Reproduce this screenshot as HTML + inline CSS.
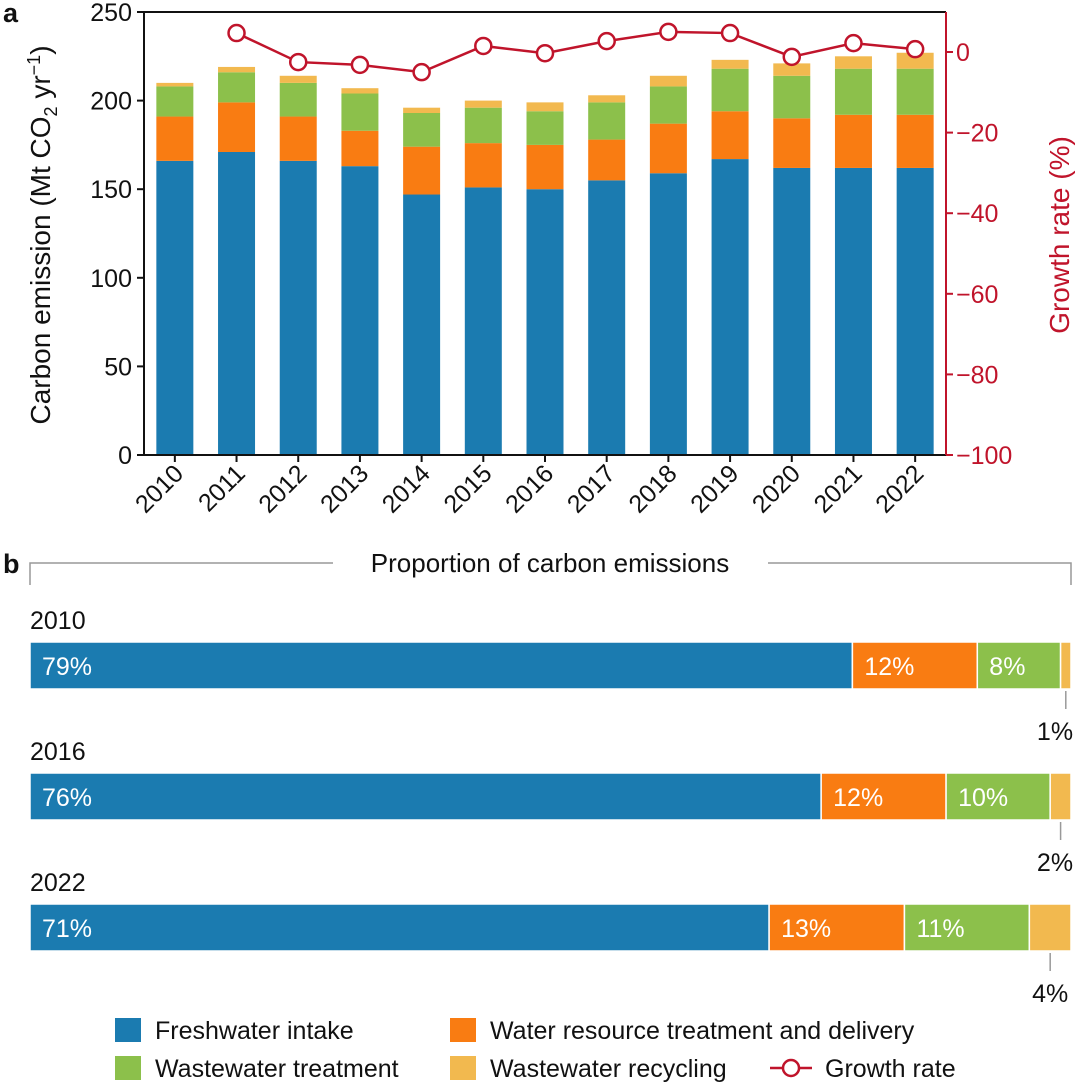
<!DOCTYPE html>
<html><head><meta charset="utf-8"><style>
body{margin:0;background:#fff;}
svg{display:block;font-family:"Liberation Sans",Arial,sans-serif;}
</style></head><body>
<svg id="c" width="1080" height="1083" viewBox="0 0 1080 1083"></svg>
<script>
const years=["2010","2011","2012","2013","2014","2015","2016","2017","2018","2019","2020","2021","2022"];
const freshwater=[166,171,166,163,147,151,150,155,159,167,162,162,162];
const treatment=[25,28,25,20,27,25,25,23,28,27,28,30,30];
const wastewater=[17,17,19,21,19,20,19,21,21,24,24,26,26];
const recycling=[2,3,4,3,3,4,5,4,6,5,7,7,9];
const growth=[null,4.7,-2.5,-3.2,-5,1.5,-0.3,2.7,5,4.7,-1.2,2.2,0.7];
const leftTicks=[0,50,100,150,200,250];
const rightTicks=[0,-20,-40,-60,-80,-100];
const propYears=["2010","2016","2022"];
const propFresh=[79,76,71];
const propTreat=[12,12,13];
const propWaste=[8,10,12];
const propRecyc=[1,2,4];
const propLabels=[["79%","12%","8%","1%"],["76%","12%","10%","2%"],["71%","13%","11%","4%"]];

const NS="http://www.w3.org/2000/svg";
const svg=document.getElementById('c');
function mk(t,a,p){const e=document.createElementNS(NS,t);for(const k in a)e.setAttribute(k,a[k]);(p||svg).appendChild(e);return e;}
const COL=["#1b7bb0","#f97c12","#8cc04b","#f2b94f"];
const RED="#c0142b";
const X0=144,X1=946,YT=12,YB=455;
const yL=v=>YB-(v/250)*(YB-YT);
const yR=v=>52-v*4.03;
const step=(X1-X0)/years.length;
const xC=i=>X0+step*(i+0.5);
const BW=37;

const series=[freshwater,treatment,wastewater,recycling];
const sname=['freshwater','treatment','wastewater','recycling'];
years.forEach((y,i)=>{let base=0;series.forEach((s,k)=>{
 const r=mk('rect',{x:xC(i)-BW/2,y:yL(base+s[i]),width:BW,height:yL(base)-yL(base+s[i]),fill:COL[k]});
 
 
 base+=s[i];});});
const fr=mk('path',{d:`M${X0},${YB}V${YT}H${X1}`,stroke:"#111",fill:"none","stroke-width":2});

mk('line',{x1:X0,y1:YB,x2:X1,y2:YB,stroke:"#111","stroke-width":2});
const ra=mk('line',{x1:X1,y1:YT,x2:X1,y2:YB,stroke:RED,"stroke-width":2});

leftTicks.forEach(t=>{mk('line',{x1:X0-7,x2:X0,y1:yL(t),y2:yL(t),stroke:"#111","stroke-width":2});
 const tx=mk('text',{x:X0-12,y:yL(t)+9,"text-anchor":"end","font-size":25,fill:"#111"});tx.textContent=t;
 });
rightTicks.forEach(t=>{mk('line',{x1:X1,x2:X1+7,y1:yR(t),y2:yR(t),stroke:RED,"stroke-width":2});
 const tx=mk('text',{x:X1+10,y:yR(t)+9,"font-size":25,fill:RED});tx.textContent=t<0?'\u2212'+(-t):t;
 });
years.forEach((y,i)=>{mk('line',{x1:xC(i),x2:xC(i),y1:YB,y2:YB+7,stroke:"#111","stroke-width":2});
 const tx=mk('text',{x:xC(i)+10,y:YB+20,"text-anchor":"end","font-size":25,fill:"#111",transform:`rotate(-45 ${xC(i)+10} ${YB+20})`});tx.textContent=y;
 });
let pts=[];growth.forEach((g,i)=>{if(g!==null)pts.push(xC(i)+','+yR(g));});
const gl=mk('polyline',{points:pts.join(' '),fill:"none",stroke:RED,"stroke-width":2.5});

growth.forEach((g,i)=>{if(g===null)return;const c=mk('circle',{cx:xC(i),cy:yR(g),r:8,fill:"#fff",stroke:RED,"stroke-width":2.5});
 });
let t=mk('text',{x:0,y:0,"font-size":28,fill:"#111","text-anchor":"middle",transform:"translate(50,235) rotate(-90)"});
t.innerHTML='Carbon emission (Mt CO<tspan font-size="18" dy="7">2</tspan><tspan dy="-7"> yr</tspan><tspan font-size="18" dy="-10">\u22121</tspan><tspan dy="10">)</tspan>';

t=mk('text',{x:0,y:0,"font-size":28,fill:RED,"text-anchor":"middle",transform:"translate(1069,235) rotate(-90)"});t.textContent='Growth rate (%)';

t=mk('text',{x:3,y:22,"font-size":27,"font-weight":"bold",fill:"#111"});t.textContent='a';

t=mk('text',{x:3,y:573,"font-size":27,"font-weight":"bold",fill:"#111"});t.textContent='b';


const BX0=30,BX1=1071;
const br=mk('path',{d:`M${BX0},585V563H333M768,563H${BX1}V585`,fill:"none",stroke:"#999","stroke-width":1.5});

t=mk('text',{x:550,y:572,"font-size":26,fill:"#111","text-anchor":"middle"});t.textContent='Proportion of carbon emissions';

const pser=[propFresh,propTreat,propWaste,propRecyc];
propYears.forEach((py,j)=>{
 const by=642+j*131,bh=47;
 const yl=mk('text',{x:30,y:by-13,"font-size":25,fill:"#111"});yl.textContent=py;
 
 const tot=pser.reduce((a,s)=>a+s[j],0);let acc=0;
 pser.forEach((s,k)=>{const x=BX0+(acc/tot)*(BX1-BX0),w=(s[j]/tot)*(BX1-BX0);
  const r=mk('rect',{x:x,y:by,width:w,height:bh,fill:COL[k],stroke:"#fff","stroke-width":1.5});
  
  if(k<3){const tx=mk('text',{x:x+12,y:by+33,"font-size":25,fill:"#fff"});tx.textContent=propLabels[j][k];
   }
  else{const cx=x+w/2;mk('line',{x1:cx,x2:cx,y1:by+bh+2,y2:by+bh+20,stroke:"#999","stroke-width":1.5});
   const tx=mk('text',{x:Math.min(cx,1055),y:by+bh+51,"font-size":25,fill:"#111","text-anchor":"middle"});tx.textContent=propLabels[j][k];
   }
  acc+=s[j];});
});
const leg=[[115,1030,COL[0],'Freshwater intake'],[450,1030,COL[1],'Water resource treatment and delivery'],[115,1068,COL[2],'Wastewater treatment'],[450,1068,COL[3],'Wastewater recycling']];
leg.forEach(l=>{const g=mk('g',{});
 mk('rect',{x:l[0],y:l[1]-12,width:26,height:24,fill:l[2]},g);
 const tx=mk('text',{x:l[0]+40,y:l[1]+9,"font-size":25,fill:"#111"},g);tx.textContent=l[3];});
const lg=mk('g',{});
mk('line',{x1:770,x2:812,y1:1068,y2:1068,stroke:RED,"stroke-width":2.5},lg);
mk('circle',{cx:791,cy:1068,r:8,fill:"#fff",stroke:RED,"stroke-width":2.5},lg);
t=mk('text',{x:825,y:1077,"font-size":25,fill:"#111"},lg);t.textContent='Growth rate';
</script>
</body></html>
